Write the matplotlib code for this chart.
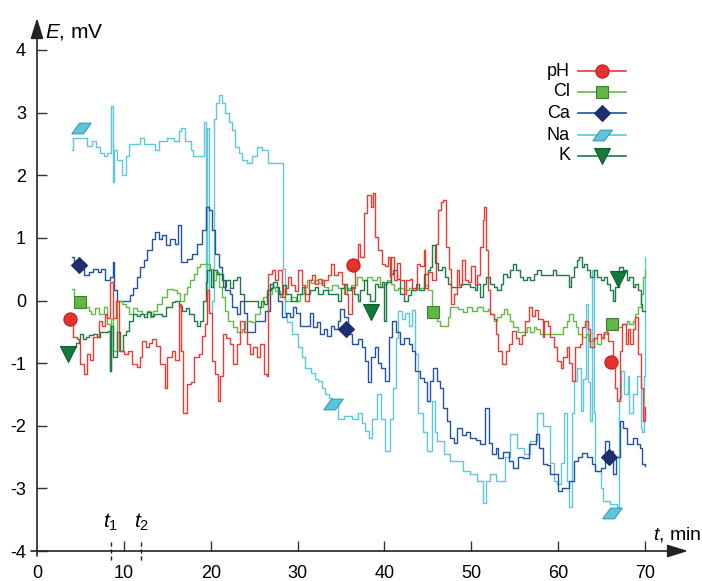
import matplotlib
matplotlib.use("Agg")
import matplotlib.pyplot as plt
from matplotlib.lines import Line2D

plt.rcParams['font.family'] = ['Liberation Sans', 'DejaVu Sans']
plt.rcParams['mathtext.fontset'] = 'custom'
plt.rcParams['mathtext.rm'] = 'Liberation Sans'
plt.rcParams['mathtext.it'] = 'Liberation Sans:italic'
plt.rcParams['mathtext.bf'] = 'Liberation Sans:bold'

# ---------------- data ----------------
na_t = [4.0, 4.2, 5.8, 6.3, 6.8, 7.3, 7.7, 8.1, 8.5, 8.7, 8.9, 9.2, 9.8, 10.2, 10.6, 11.9, 12.3, 13.6, 14.0,
        15.0, 15.8, 16.3, 16.6, 17.0, 17.7, 18.0, 19.2, 19.4, 19.6, 19.8, 20.2, 20.4, 20.6, 20.9, 21.3, 21.7,
        22.1, 22.5, 22.8, 23.2, 23.6, 24.2, 24.8, 25.3, 25.9, 26.6, 28.3, 28.5, 28.8, 29.4, 30.1, 30.5, 30.9,
        31.6, 32.0, 32.4, 32.8, 33.2, 33.6, 34.0, 34.7, 35.3, 36.3, 37.0, 37.4, 37.8, 38.2, 38.6, 39.1, 39.6,
        40.1, 40.6, 41.0, 41.3, 41.6, 42.0, 42.4, 42.8, 43.2, 43.5, 43.9, 44.4, 44.9, 45.5, 45.8, 46.1, 46.9,
        47.6, 48.3, 49.1, 49.9, 50.7, 51.3, 51.7, 52.2, 52.9, 53.9, 54.5, 55.3, 56.1, 56.8, 57.6, 58.3, 59.1,
        59.5, 59.9, 60.3, 60.7, 61.0, 61.3, 61.6, 61.8, 62.2, 62.6, 62.9, 63.2, 63.4, 63.7, 63.9, 64.1, 64.3,
        64.9, 65.2, 66.0, 66.8, 67.0, 67.2, 67.6, 68.0, 68.2, 68.6, 69.1, 69.5, 69.7, 69.9, 70.0]
na_v = [2.4, 2.6, 2.47, 2.55, 2.45, 2.35, 2.3, 2.35, 3.1, 1.9, 2.4, 2.25, 2.0, 2.3, 2.5, 2.6, 2.5, 2.4, 2.55,
        2.6, 2.55, 2.7, 2.75, 2.55, 2.4, 2.3, 2.85, 0.1, 2.75, -0.2, 0.0, 2.9, 3.15, 3.28, 3.15, 3.0,
        2.85, 2.72, 2.45, 2.35, 2.25, 2.2, 2.3, 2.45, 2.4, 2.2, 0.5, -0.2, -0.35, -0.53, -0.75, -0.9, -1.07,
        -1.15, -1.25, -1.28, -1.4, -1.49, -1.55, -1.6, -1.9, -1.85, -1.9, -1.8, -1.95, -2.08, -2.2, -1.9, -1.5, -1.9,
        -2.4, -1.9, -1.39, -0.6, -0.16, -0.3, -0.2, -0.4, -0.15, -0.85, -1.8, -2.1, -2.4, -1.6, -2.1, -2.24, -2.45,
        -2.56, -2.56, -2.72, -2.77, -2.88, -3.23, -2.88, -2.77, -2.88, -2.5, -2.13, -2.35, -2.45, -2.24, -1.8, -2.0, -2.6,
        -2.88, -2.93, -2.6, -1.8, -2.88, -3.3, -1.8, -1.28, -1.07, -1.76, -1.25, -0.05, -1.3, -1.92, 0.48, -1.8, -2.72,
        -2.99, -3.2, -3.25, -3.3, -1.55, -1.12, -1.5, -1.2, -1.8, -1.5, -1.2, -2.03, -2.1, -1.2, 0.69]

ca_t = [4.0, 4.3, 4.8, 5.4, 6.0, 6.5, 7.0, 7.4, 7.8, 8.4, 8.7, 8.9, 9.2, 10.7, 11.1, 11.5, 11.9, 12.3, 12.7,
        13.2, 13.6, 14.0, 14.4, 14.8, 15.3, 15.9, 16.2, 16.6, 17.3, 17.8, 18.4, 19.0, 19.4, 19.8, 20.2, 20.5,
        20.9, 21.3, 21.7, 22.2, 22.5, 23.0, 23.4, 23.8, 24.2, 25.1, 26.3, 26.8, 27.2, 27.7, 28.2, 28.7, 29.1,
        29.5, 29.8, 30.3, 31.4, 31.8, 32.2, 32.6, 33.0, 33.4, 33.8, 34.2, 34.6, 34.9, 35.3, 35.8, 36.3, 36.9,
        37.4, 37.8, 38.1, 38.5, 38.9, 39.3, 39.6, 40.1, 40.5, 40.9, 41.3, 41.8, 42.3, 42.8, 43.2, 43.5, 44.1,
        44.5, 44.9, 45.3, 45.6, 46.0, 46.4, 46.8, 47.2, 47.6, 48.0, 48.4, 48.9, 49.4, 49.9, 50.5, 51.0, 51.6,
        52.0, 52.4, 52.8, 53.1, 53.7, 54.3, 54.8, 55.4, 56.0, 56.6, 57.4, 57.8, 58.2, 58.7, 59.1, 59.5, 60.0,
        60.5, 61.2, 61.8, 62.3, 62.8, 63.3, 63.9, 64.3, 64.9, 65.4, 65.8, 66.3, 66.7, 67.1, 67.5, 67.9, 68.6,
        69.1, 69.4, 69.7, 70.0]
ca_v = [0.69, 0.6, 0.5, 0.4, 0.45, 0.5, 0.45, 0.5, 0.32, 0.37, 0.61, 0.16, 0.0, 0.08, 0.2, 0.37, 0.53, 0.64, 0.8,
        0.99, 1.09, 0.98, 1.05, 0.88, 0.99, 0.9, 1.2, 0.61, 0.67, 0.75, 0.91, 1.12, 1.49, 1.44, 1.12, 0.75,
        0.53, 0.32, 0.16, 0.1, -0.1, -0.21, 0.0, -0.2, -0.51, -0.32, -0.16, 0.27, 0.22, 0.0, -0.27, -0.2, -0.27,
        -0.1, -0.2, -0.4, -0.2, -0.43, -0.35, -0.53, -0.45, -0.56, -0.4, -0.45, -0.32, -0.13, -0.27, -0.53, -0.69, -0.62,
        -0.75, -0.96, -1.3, -0.9, -0.75, -1.0, -1.07, -1.28, -0.59, -0.32, -0.5, -0.69, -0.6, -0.7, -0.8, -1.12, -1.23,
        -1.3, -1.6, -1.28, -1.07, -1.28, -1.39, -1.71, -1.92, -2.19, -2.27, -2.03, -2.15, -2.1, -2.2, -2.22, -2.29, -1.71,
        -2.27, -2.45, -2.35, -2.51, -2.42, -2.56, -2.67, -2.5, -2.51, -2.29, -2.13, -2.35, -2.61, -2.62, -2.77, -2.77, -3.04,
        -3.0, -2.88, -2.56, -2.5, -2.43, -2.5, -2.61, -2.72, -2.68, -2.24, -2.4, -2.77, -2.5, -1.92, -2.03, -2.29, -2.2,
        -2.29, -2.35, -2.61, -2.64]

ph_t = [4.0, 4.2, 4.6, 4.9, 5.4, 5.8, 6.1, 6.5, 7.1, 7.5, 7.8, 8.1, 8.4, 8.7, 9.1, 9.4, 10.0, 10.5, 10.9, 11.5,
        11.9, 12.1, 12.6, 12.9, 13.2, 13.7, 14.2, 14.7, 15.0, 15.5, 15.9, 16.3, 16.6, 16.8, 17.3, 17.7, 18.1,
        18.6, 19.0, 19.3, 19.6, 19.8, 20.1, 20.5, 20.8, 21.1, 21.4, 21.8, 22.2, 22.6, 23.0, 23.4, 23.8, 24.2,
        24.5, 24.9, 25.3, 25.7, 26.1, 26.5, 26.6, 27.0, 27.4, 27.8, 28.2, 28.5, 28.9, 29.3, 29.7, 30.1, 30.5,
        30.9, 31.3, 31.7, 32.0, 32.4, 32.8, 33.1, 33.5, 33.9, 34.2, 34.6, 35.1, 35.5, 35.8, 36.3, 36.6, 36.9,
        37.2, 37.6, 38.0, 38.4, 38.7, 38.9, 39.3, 39.7, 40.1, 40.4, 40.6, 40.8, 41.1, 41.4, 41.8, 42.2, 42.5,
        42.9, 43.2, 43.7, 44.1, 44.5, 44.7, 45.0, 45.5, 45.9, 46.2, 46.5, 46.8, 47.1, 47.4, 47.7, 48.0, 48.3,
        48.6, 48.9, 49.3, 49.6, 50.0, 50.4, 50.7, 51.0, 51.3, 51.5, 51.7, 51.9, 52.2, 52.6, 52.9, 53.1, 53.5,
        54.0, 54.3, 54.7, 55.1, 55.5, 55.8, 56.2, 56.6, 57.0, 57.3, 57.7, 58.2, 58.4, 58.8, 59.1, 59.5, 59.9,
        60.3, 60.6, 61.0, 61.3, 61.6, 61.9, 62.5, 62.8, 63.1, 63.4, 63.7, 64.1, 64.5, 64.9, 65.3, 65.7, 66.3,
        66.6, 66.8, 67.1, 67.4, 67.8, 68.0, 68.3, 68.6, 68.9, 69.2, 69.5, 69.8, 70.0]
ph_v = [-0.3, -0.59, -0.61, -1.01, -1.17, -0.85, -0.95, -0.59, -0.32, -0.4, -0.21, -0.28, 0.29, -0.28, 0.0, -0.8,
        -0.85, -0.8, -1.01, -1.06, -0.9, -0.64, -0.75, -0.68, -0.61, -0.72, -1.01, -1.39, -0.9, -0.8, -0.95, -0.05,
        -0.8, -1.79, -1.33, -1.3, -0.91, -0.85, -0.56, -0.37, 0.16, -0.2, -0.96, -1.17, -1.6, -1.2, -0.53, -0.6,
        -0.69, -1.01, -0.7, -0.32, -0.5, -0.69, -0.85, -0.75, -0.9, -0.69, -1.17, -1.2, 0.43, 0.48, 0.32, 0.48,
        0.05, 0.2, 0.37, 0.25, 0.15, 0.48, 0.25, 0.0, 0.32, 0.4, 0.27, 0.35, 0.25, 0.32, 0.4, 0.59, 0.4, 0.45,
        0.27, 0.1, -0.21, 0.2, 0.57, 0.91, 0.69, 1.39, 1.68, 1.49, 1.71, 1.01, 0.8, 0.59, 0.55, 0.69, 0.37, 0.69,
        0.32, 0.6, 0.32, 0.1, 0.32, 0.35, 0.2, 0.59, 0.55, 0.8, 0.2, 0.45, 0.32, 0.91, 1.44, 1.57, 1.6, 0.85,
        0.5, -0.05, 0.1, 0.48, 0.25, 0.64, 0.32, 0.3, 0.55, 0.25, 0.4, 0.85, 1.28, 1.49, 0.8, 0.16, -0.21, -0.3,
        -0.53, -0.8, -1.01, -0.8, -0.7, -0.48, -0.6, -0.7, -0.55, -0.32, -0.11, -0.25, -0.15, -0.3, -0.59, -0.32,
        -0.4, -0.59, -0.75, -0.96, -1.07, -0.9, -0.75, -1.0, -1.28, -0.75, -0.7, -0.43, -0.32, -0.45, -0.75, -0.6,
        -0.53, -0.6, -0.5, -0.64, -1.07, -1.39, -1.6, -0.8, -0.37, -0.69, -0.45, -0.69, -0.45, -0.27, -0.85, -1.39,
        -1.92, -1.7]

cl_t = [4.0, 4.3, 5.0, 6.0, 6.2, 6.7, 7.1, 7.7, 8.1, 8.4, 8.55, 8.8, 9.2, 9.8, 10.2, 10.6, 11.0, 11.5, 12.1,
        12.7, 13.0, 13.4, 13.8, 14.4, 15.0, 15.7, 16.1, 16.5, 16.9, 17.3, 17.6, 18.1, 18.4, 18.8, 19.9, 20.3,
        20.6, 20.9, 21.3, 21.7, 22.0, 22.6, 23.0, 23.6, 24.0, 24.6, 25.1, 25.7, 26.0, 26.5, 27.1, 27.4, 28.0,
        28.6, 29.2, 29.8, 30.3, 30.7, 31.1, 31.5, 31.9, 32.3, 32.7, 33.1, 33.5, 34.0, 34.6, 35.3, 35.7, 36.2,
        36.8, 37.4, 38.0, 38.6, 39.2, 39.5, 39.9, 40.3, 40.7, 41.1, 41.6, 42.2, 42.8, 43.2, 43.8, 44.5, 45.0,
        45.5, 46.1, 46.4, 47.3, 47.6, 48.5, 49.1, 49.5, 50.1, 50.7, 51.3, 51.9, 52.2, 52.6, 53.0, 53.4, 53.8,
        54.1, 54.5, 54.8, 55.4, 56.4, 56.8, 57.2, 57.5, 57.9, 60.6, 61.0, 61.3, 61.7, 62.1, 62.3, 62.8, 63.2,
        63.5, 64.0, 64.5, 64.9, 65.2, 65.6, 66.8, 67.3, 67.9, 68.2, 68.6, 68.9, 69.2, 69.5, 69.8, 70.0]
cl_v = [0.19, 0.05, -0.11, -0.16, -0.21, -0.12, -0.21, -0.11, -0.37, -1.12, -0.3, -0.8, 0.0, -0.05, -0.1, -0.21,
        -0.12, -0.16, -0.21, -0.16, -0.27, -0.16, -0.05, 0.05, 0.19, 0.17, 0.12, 0.0, 0.1, 0.21, 0.32, 0.43, 0.53,
        0.59, 0.5, 0.32, 0.45, 0.21, 0.05, -0.16, -0.32, -0.43, -0.51, -0.45, -0.32, -0.35, -0.21, -0.1, 0.05, 0.1,
        0.21, 0.15, 0.05, 0.0, 0.05, 0.0, 0.1, 0.21, 0.32, 0.28, 0.32, 0.28, 0.32, 0.22, 0.16, 0.25, 0.2, 0.1,
        0.2, 0.25, 0.37, 0.32, 0.37, 0.32, 0.37, 0.21, 0.27, 0.32, 0.27, 0.16, 0.2, 0.16, 0.2, 0.16, 0.2, 0.24,
        0.16, -0.16, -0.32, -0.4, -0.27, -0.11, -0.13, -0.19, -0.11, -0.16, -0.11, -0.16, -0.13, -0.21, -0.32,
        -0.27, -0.21, -0.13, -0.21, -0.32, -0.43, -0.51, -0.43, -0.51, -0.43, -0.45, -0.53, -0.43, -0.32, -0.21,
        -0.32, -0.43, -0.53, -0.58, -0.53, -0.64, -0.6, -0.69, -0.6, -0.53, -0.45, -0.43, -0.38, -0.32, -0.37,
        -0.32, -0.21, -0.11, 0.1, 0.37, 0.48]

k_t = [4.2, 4.5, 4.8, 5.0, 5.3, 5.6, 6.0, 6.5, 6.9, 7.3, 8.2, 8.4, 8.55, 8.8, 9.2, 9.6, 9.9, 10.2, 10.6, 11.0,
       11.5, 11.9, 12.3, 12.7, 13.1, 13.5, 14.4, 14.8, 15.5, 15.9, 16.3, 16.7, 17.1, 17.5, 18.1, 18.4, 18.8,
       19.1, 19.4, 19.6, 20.0, 20.3, 20.7, 21.4, 21.8, 22.2, 22.6, 23.0, 23.4, 23.8, 25.4, 25.8, 26.1, 26.5,
       26.9, 27.2, 27.6, 27.9, 28.3, 28.7, 29.3, 29.9, 30.5, 30.9, 31.4, 32.0, 32.4, 32.9, 33.5, 34.1, 34.6,
       35.0, 35.3, 35.7, 36.1, 36.5, 36.9, 37.2, 37.6, 38.0, 38.3, 38.9, 39.3, 39.7, 40.0, 40.2, 40.7, 41.0,
       41.4, 41.8, 42.2, 42.7, 43.1, 43.6, 44.0, 44.5, 45.0, 45.3, 45.5, 45.8, 46.2, 46.6, 47.0, 47.3, 47.7,
       48.8, 49.9, 50.4, 50.7, 51.0, 51.3, 51.7, 52.2, 52.6, 53.0, 53.4, 53.7, 54.1, 54.5, 54.8, 55.2, 55.6,
       56.0, 56.4, 56.8, 57.2, 57.6, 58.0, 59.4, 59.7, 61.2, 61.5, 61.8, 62.2, 62.4, 62.7, 63.0, 63.3, 63.7,
       64.1, 64.5, 64.9, 65.3, 65.6, 66.0, 66.3, 66.6, 67.0, 67.5, 67.9, 68.2, 68.6, 68.9, 69.2, 69.5, 69.7, 70.0]
k_v = [-0.75, -0.68, -0.61, -0.53, -0.62, -0.58, -0.55, -0.53, -0.58, -0.51, -0.48, -1.12, -0.4, -0.9, -0.5, -0.8,
       -0.55, -0.48, -0.32, -0.21, -0.25, -0.21, -0.27, -0.18, -0.25, -0.21, -0.25, -0.11, -0.03, 0.0, -0.08, -0.16,
       -0.12, -0.21, -0.32, -0.4, -0.32, 0.0, 0.29, 0.48, 0.21, 0.48, 0.43, 0.21, 0.32, 0.2, 0.32, 0.37, 0.1, 0.0,
       -0.11, 0.0, -0.05, 0.16, 0.2, 0.29, 0.21, 0.1, 0.25, 0.1, 0.0, 0.1, 0.21, 0.1, 0.16, 0.21, 0.1, 0.17, 0.1,
       0.1, 0.0, 0.2, 0.27, 0.16, 0.21, 0.1, 0.0, 0.16, 0.32, 0.1, 0.0, 0.27, 0.21, 0.3, -0.32, 0.3, 0.43, 0.48,
       0.35, 0.1, 0.0, 0.08, 0.16, 0.27, 0.16, 0.43, 0.48, 0.53, 0.88, 0.6, 0.48, 0.53, 0.37, 0.27, 0.21, 0.27,
       0.21, 0.16, 0.27, 0.05, 0.27, 0.37, 0.27, 0.21, 0.16, 0.27, 0.43, 0.37, 0.48, 0.59, 0.48, 0.37, 0.32, 0.37,
       0.32, 0.43, 0.48, 0.4, 0.48, 0.4, 0.21, 0.37, 0.53, 0.64, 0.69, 0.53, 0.59, 0.48, 0.37, 0.48, 0.37, 0.32,
       0.37, 0.27, 0.16, 0.0, 0.21, 0.53, 0.48, 0.32, 0.37, 0.21, 0.27, 0.16, -0.05, -0.16, -0.16]

# marker positions (three per series)
ph_mt, ph_mv = [3.8, 36.4, 66.1], [-0.29, 0.56, -0.98]
cl_mt, cl_mv = [5.0, 45.6, 66.2], [-0.02, -0.18, -0.38]
ca_mt, ca_mv = [4.8, 35.6, 65.8], [0.56, -0.46, -2.5]
na_mt, na_mv = [5.1, 34.1, 66.2], [2.75, -1.66, -3.4]
k_mt, k_mv = [3.6, 38.4, 66.9], [-0.86, -0.18, 0.35]

legend_labels = ["pH", "Cl", "Ca", "Na", "K"]
xticks = [0, 10, 20, 30, 40, 50, 60, 70]
xticklabels = ["0", "10", "20", "30", "40", "50", "60", "70"]
yticks = [-4, -3, -2, -1, 0, 1, 2, 3, 4]
t_marks = [8.5, 12.0]

# ---------------- styles ----------------
para = [(-1, -0.55), (0.2, -0.55), (1, 0.55), (-0.2, 0.55), (-1, -0.55)]
styles = {
    "pH": dict(color="#EC3B33", marker="o", mfc="#E8312C", mec="#B52222", ms=9.5),
    "Cl": dict(color="#62BB46", marker="s", mfc="#62B646", mec="#3C8030", ms=9),
    "Ca": dict(color="#2452A3", marker="D", mfc="#1D2F6E", mec="#1D2F6E", ms=8.5),
    "Na": dict(color="#5EC7DB", marker=para, mfc="#5BC5DA", mec="#3A9AB3", ms=14),
    "K":  dict(color="#1E7A46", marker="v", mfc="#137A3C", mec="#0F5E2F", ms=11),
}
series = {
    "Na": (na_t, na_v, na_mt, na_mv),
    "Ca": (ca_t, ca_v, ca_mt, ca_mv),
    "Cl": (cl_t, cl_v, cl_mt, cl_mv),
    "K": (k_t, k_v, k_mt, k_mv),
    "pH": (ph_t, ph_v, ph_mt, ph_mv),
}

W, H = 702, 581
fig = plt.figure(figsize=(W / 100, H / 100), dpi=100)
x0px, x70px = 37, 645
ppu_x = (x70px - x0px) / 70.0
ybot, ytop = 551, 50
ppu_y = (ybot - ytop) / 8.0
right_px, top_px = 685, 19
ax = fig.add_axes([x0px / W, (H - ybot) / H, (right_px - x0px) / W, (ybot - top_px) / H])
ax.set_xlim(0, (right_px - x0px) / ppu_x)
ax.set_ylim(-4, -4 + (ybot - top_px) / ppu_y)

for name, (t, v, mt, mv) in series.items():
    st = styles[name]
    ax.plot(t, v, color=st["color"], lw=1.0, drawstyle="steps-post", zorder=2)
for name, (t, v, mt, mv) in series.items():
    st = styles[name]
    ax.plot(mt, mv, ls="none", marker=st["marker"], mfc=st["mfc"], mec=st["mec"],
            ms=st["ms"], mew=0.8, zorder=5, clip_on=False)

for s in ax.spines.values():
    s.set_visible(False)
ax.set_xticks(xticks)
ax.set_xticklabels(xticklabels)
ax.set_yticks(yticks)
ax.set_yticklabels([str(y) for y in yticks])
ax.tick_params(direction="in", length=7, width=1.0, color="#333333", labelsize=13)
ax.tick_params(axis="x", pad=10)
ax.tick_params(axis="y", pad=8)
ax.xaxis.get_major_ticks()[0].tick1line.set_visible(False)

# axes with arrows
axis_col = "#222222"
ax.annotate("", xy=(x0px, H - 18), xytext=(x0px, H - 556), xycoords="figure pixels",
            textcoords="figure pixels",
            arrowprops=dict(arrowstyle="-|>,head_length=0.9,head_width=0.28", color=axis_col, lw=1.2,
                            mutation_scale=14, shrinkA=0, shrinkB=0))
ax.annotate("", xy=(688, H - ybot), xytext=(31, H - ybot), xycoords="figure pixels",
            textcoords="figure pixels",
            arrowprops=dict(arrowstyle="-|>,head_length=0.9,head_width=0.28", color=axis_col, lw=1.2,
                            mutation_scale=14, shrinkA=0, shrinkB=0))

# axis titles
fig.text(45 / W, 1 - 37 / H, r"$\it{E}$, mV", fontsize=15, ha="left", va="baseline")
fig.text(653 / W, 1 - 540 / H, r"$\it{t}$, min", fontsize=14, ha="left", va="baseline")

# t1, t2 markers
for i, tm in enumerate(t_marks, start=1):
    ax.plot([tm, tm], [-3.86, -4.18], ls=(0, (3, 2)), color="#222222", lw=1.0, clip_on=False, zorder=3)
    ax.text(tm, -3.62, r"$\it{t}_{%d}$" % i, fontsize=15, ha="center", va="baseline")

# manual legend
rows_y = [71, 92, 113, 135, 156]
for lab, yy in zip(legend_labels, rows_y):
    st = styles[lab]
    fy = 1 - yy / H
    fig.add_artist(Line2D([578 / W, 626 / W], [fy, fy], color=st["color"], lw=1.2,
                          transform=fig.transFigure))
    fig.add_artist(Line2D([602 / W], [fy], ls="none", marker=st["marker"], mfc=st["mfc"],
                          mec=st["mec"], ms=st["ms"], mew=0.8, transform=fig.transFigure))
    fig.text(570 / W, fy, lab, fontsize=13, ha="right", va="center")

fig.savefig("out.png", dpi=100)
